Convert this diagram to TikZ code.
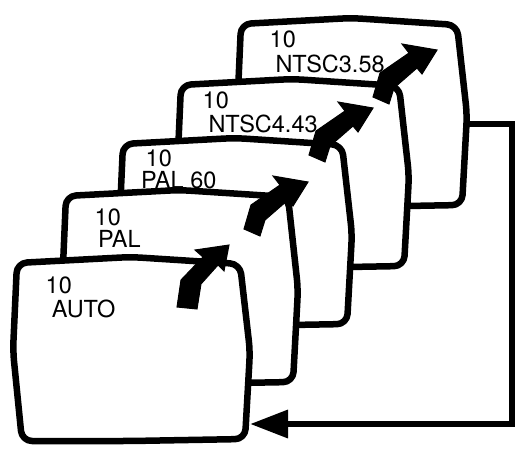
\documentclass[tikz,border=0pt]{standalone}
\usepackage{fontspec}
\setmainfont{TeX Gyre Heros}
\usetikzlibrary{arrows.meta}
\tikzset{
  screen/.style={draw=black, line width=6.5pt, fill=white, rounded corners=10pt, line join=round},
  blockarrow/.style={fill=black, draw=black, line width=1pt, line join=miter},
  lbl/.style={inner sep=0pt, anchor=base west, font=\fontsize{23.5}{24}\selectfont},
  feedback/.style={draw=black, line width=6.5pt, -{Triangle[length=38pt,width=27pt]}},
  fatarrow/.pic={\filldraw[blockarrow] (0,0) -- (-15,24) -- (-20,18) -- (-43,38) -- (-48,54) -- (-64,47) -- (-57,23) -- (-28,3) -- (-35,-6) -- cycle;}
}
\newcommand\tvscreen[5]{%
  \begin{scope}[shift={(#2,#3)}]
    \draw[screen] (-2,{#5/4}) -- (0,0) -- ({#4/2},-6) -- ({#4-5},1) -- ({#4+5},{#5/2}) -- (#4,#5) -- ({#4/2},{#5+2}) -- (5,{#5+2}) -- (-4,{#5/2}) -- cycle;
    \coordinate (#1) at ({#4/2},{#5/2});
  \end{scope}}
\begin{document}
\begin{tikzpicture}[x=1pt,y=-1pt]
\useasboundingbox (0,0) rectangle (516,452);
% screen 5
\tvscreen{s5}{241}{24}{221}{181}
\node[lbl] (t5a) at (269.5,48) {10};
\node[lbl] (t5b) at (275.3,72) {NTSC3.58};
% screen 4
\tvscreen{s4}{181}{85}{223}{181}
\node[lbl] (t4a) at (202.5,108) {10};
\node[lbl] (t4b) at (208.3,132) {NTSC4.43};
\pic (a4) at (437,50) {fatarrow};
% screen 3
\tvscreen{s3}{123}{144}{224}{180}
\node[lbl] (t3a) at (145.5,166) {10};
\node[lbl] (t3b) at (141,188) {PAL 60};
\pic (a3) at (373,108) {fatarrow};
% screen 2
\tvscreen{s2}{66}{196}{227}{186}
\node[lbl] (t2a) at (94.5,225) {10};
\node[lbl] (t2b) at (98,247) {PAL};
\pic (a2) at (308,182) {fatarrow};
% screen 1
\tvscreen{s1}{17}{263}{228}{176}
\node[lbl] (t1a) at (45.5,293) {10};
\node[lbl] (t1b) at (51.7,317) {AUTO};
\filldraw[blockarrow] (229,245) -- (224,271) -- (218,265) -- (201,284) -- (197,309) -- (177,307) -- (181,280) -- (203,257) -- (195,250) -- cycle;
% feedback connector
\coordinate (s5out) at (466,124);
\coordinate (fbcorner) at (512,124);
\coordinate (s1in) at (250,424);
\draw[feedback] (s5out) -- (fbcorner) |- (s1in);
\end{tikzpicture}
\end{document}
